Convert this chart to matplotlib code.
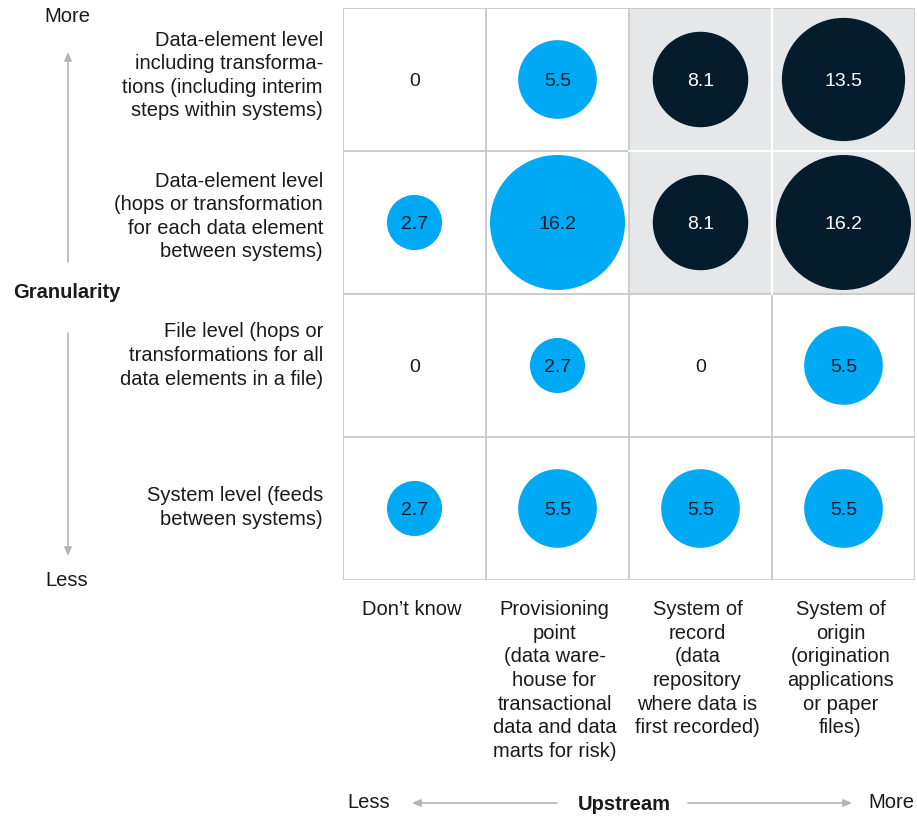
import numpy as np
import matplotlib.pyplot as plt
from matplotlib.patches import Rectangle

plt.rcParams['font.family'] = ['Liberation Sans', 'DejaVu Sans']

# data
row_labels = ["Data-element level\nincluding transforma-\ntions (including interim\nsteps within systems)",
              "Data-element level\n(hops or transformation\nfor each data element\nbetween systems)",
              "File level (hops or\ntransformations for all\ndata elements in a file)",
              "System level (feeds\nbetween systems)"]
col_labels = ["Don\u2019t know",
              "Provisioning\npoint\n(data ware-\nhouse for\ntransactional\ndata and data\nmarts for risk)",
              "System of\nrecord\n(data\nrepository\nwhere data is\nfirst recorded)",
              "System of\norigin\n(origination\napplications\nor paper\nfiles)"]
values = np.array([[0, 5.5, 8.1, 13.5],
                   [2.7, 16.2, 8.1, 16.2],
                   [0, 2.7, 0, 5.5],
                   [2.7, 5.5, 5.5, 5.5]])
# cells in the shaded block (rows 0-1, cols 2-3)
dark = np.array([[0, 0, 1, 1],
                 [0, 0, 1, 1],
                 [0, 0, 0, 0],
                 [0, 0, 0, 0]], dtype=bool)

BLUE = "#00A9F4"
NAVY = "#051C2C"
GRID = "#c8c8c8"
SHADE = "#e6e7e9"
ARROW = "#b4b4b4"
TXT = "#1a1a1a"
FS = 14.5
LS = 1.31

W, H = 917, 818
fig = plt.figure(figsize=(W / 100, H / 100), dpi=100)

def fx(x):
    return x / W

def fy(y):
    return 1 - y / H

# grid axes in pixels: left 343, right 915, top 8, bottom 580
ax = fig.add_axes([fx(343), fy(580), (915 - 343) / W, (580 - 8) / H])
ax.set_xlim(0, 4)
ax.set_ylim(4, 0)
ax.axis('off')

ax.add_patch(Rectangle((2, 0), 2, 2, facecolor=SHADE, edgecolor='none', zorder=0))
for k in range(5):
    ax.plot([k, k], [0, 4], color=GRID, lw=1.3, zorder=1, solid_capstyle='projecting')
    ax.plot([0, 4], [k, k], color=GRID, lw=1.3, zorder=1, solid_capstyle='projecting')
# white dividers inside the shaded block
ax.plot([3, 3], [0, 2], color='white', lw=1.5, zorder=1)
ax.plot([2, 4], [1, 1], color='white', lw=1.5, zorder=1)

# bubbles: area proportional to value, 16.2 -> ~136 px wide
k_area = (135 * 0.72) ** 2 / 16.2
nr, nc = values.shape
for r in range(nr):
    for c in range(nc):
        v = values[r, c]
        if v > 0:
            col = NAVY if dark[r, c] else BLUE
            ax.scatter(c + 0.5, r + 0.5, s=v * k_area, color=col, edgecolors='none', zorder=2)
            tc = 'white' if dark[r, c] else NAVY
        else:
            tc = TXT
        lab = "0" if v == 0 else f"{v:g}"
        ax.text(c + 0.5, r + 0.5, lab, ha='center', va='center_baseline', fontsize=14,
                color=tc, zorder=3)

# row labels, nudged so the text block sits a little above the row centre
row_nudge = [-4, -6, -10, -1]
for r, lab in enumerate(row_labels):
    yc = 8 + 143 * (r + 0.5) + row_nudge[r]
    fig.text(fx(323), fy(yc), lab, ha='right', va='center', fontsize=FS,
             color=TXT, linespacing=LS)

# column labels
for c, lab in enumerate(col_labels):
    xc = 343 + 143 * (c + 0.5) - 3
    fig.text(fx(xc), fy(600), lab, ha='center', va='top', fontsize=FS,
             color=TXT, linespacing=LS)

# vertical axis: granularity
fig.text(fx(13), fy(292), "Granularity", ha='left', va='center', fontsize=FS,
         fontweight='bold', color=TXT)
fig.text(fx(67), fy(16), "More", ha='center', va='center', fontsize=FS, color=TXT)
fig.text(fx(67), fy(581), "Less", ha='center', va='center', fontsize=FS, color=TXT)
arrow_kw = dict(arrowstyle='-|>,head_length=0.5,head_width=0.22', color=ARROW, lw=1.2,
                shrinkA=0, shrinkB=0)
fig.add_artist(plt.Annotation("", xy=(fx(68), fy(52)), xytext=(fx(68), fy(262)),
                              xycoords='figure fraction', arrowprops=arrow_kw))
fig.add_artist(plt.Annotation("", xy=(fx(68), fy(556)), xytext=(fx(68), fy(333)),
                              xycoords='figure fraction', arrowprops=arrow_kw))

# horizontal axis: upstream
fig.text(fx(624), fy(804), "Upstream", ha='center', va='center', fontsize=FS,
         fontweight='bold', color=TXT)
fig.text(fx(369), fy(802), "Less", ha='center', va='center', fontsize=FS, color=TXT)
fig.text(fx(891), fy(802), "More", ha='center', va='center', fontsize=FS, color=TXT)
fig.add_artist(plt.Annotation("", xy=(fx(412), fy(803)), xytext=(fx(557), fy(803)),
                              xycoords='figure fraction', arrowprops=arrow_kw))
fig.add_artist(plt.Annotation("", xy=(fx(852), fy(803)), xytext=(fx(688), fy(803)),
                              xycoords='figure fraction', arrowprops=arrow_kw))

fig.savefig("out.png", dpi=100)
